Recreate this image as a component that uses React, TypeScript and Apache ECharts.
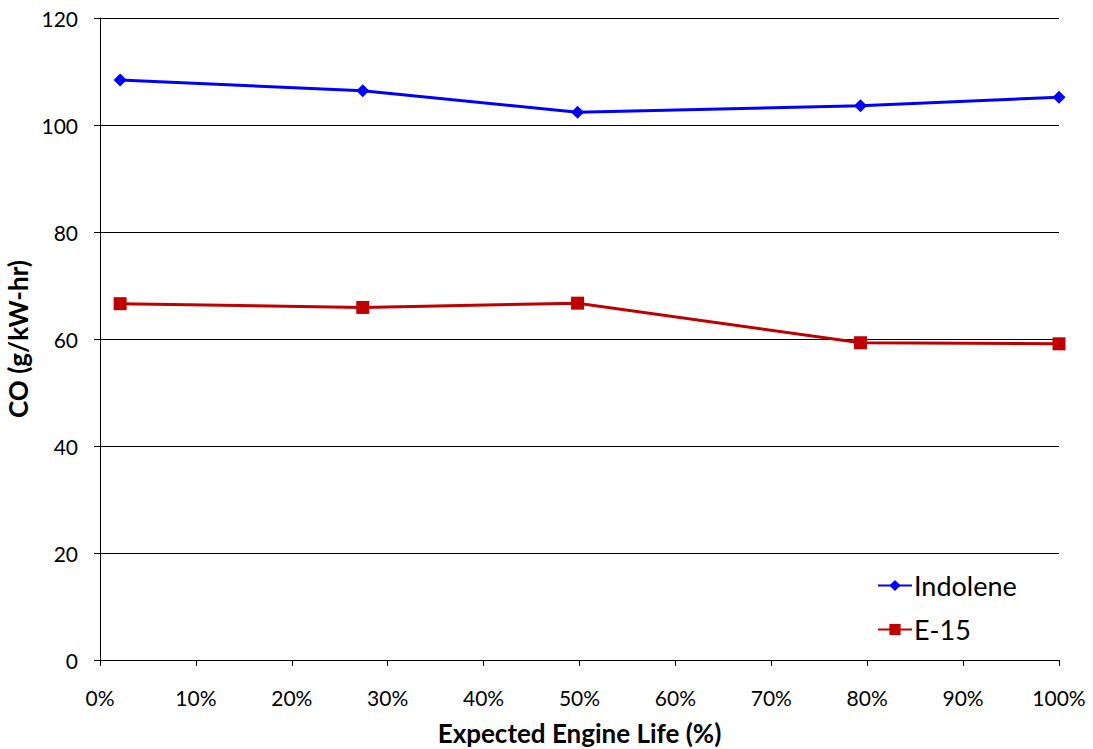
import React, { useEffect, useRef } from "react";
import * as echarts from "echarts";

const lifePct = [2.1, 27.4, 49.8, 79.3, 100];
const indolene = [108.4, 106.4, 102.4, 103.6, 105.2];
const e15 = [66.6, 65.9, 66.7, 59.3, 59.1];
const seriesNames = ["Indolene", "E-15"];
const xTitle = "Expected Engine Life (%)";
const yTitle = "CO (g/kW-hr)";

const FONT = "Lato, 'Open Sans', sans-serif";

export default function App() {
  const ref = useRef<HTMLDivElement>(null);
  useEffect(() => {
    if (!ref.current) return;
    const chart = echarts.init(ref.current, undefined, { renderer: "svg" });
    chart.setOption({
      animation: false,
      backgroundColor: "#ffffff",
      grid: {
        left: 100,
        top: 18,
        width: 959,
        height: 642,
        containLabel: false,
        outerBoundsMode: "none",
      },
      legend: {
        orient: "vertical",
        left: 877,
        top: 572,
        padding: 0,
        itemGap: 17,
        itemWidth: 34,
        itemHeight: 14,
        textStyle: { fontFamily: FONT, fontSize: 27, color: "#000", padding: [0, 0, 0, -3] },
        data: seriesNames,
      },
      xAxis: {
        type: "value",
        min: 0,
        max: 100,
        interval: 10,
        name: xTitle,
        nameLocation: "middle",
        nameGap: 60,
        nameTextStyle: { fontFamily: FONT, fontSize: 26, fontWeight: "bold", color: "#000" },
        axisLine: { show: true, lineStyle: { color: "#000", width: 1 } },
        axisTick: { show: true, length: 6, inside: false, lineStyle: { color: "#000" } },
        axisLabel: {
          formatter: (v: number) => v + "%",
          fontFamily: FONT,
          fontSize: 21,
          color: "#000",
          margin: 27,
        },
        splitLine: { show: false },
      },
      yAxis: {
        type: "value",
        min: 0,
        max: 120,
        interval: 20,
        name: yTitle,
        nameLocation: "middle",
        nameGap: 66,
        nameRotate: 90,
        nameTextStyle: { fontFamily: FONT, fontSize: 26, fontWeight: "bold", color: "#000" },
        axisLine: { show: true, lineStyle: { color: "#000", width: 1 } },
        axisTick: { show: true, length: 6, inside: false, lineStyle: { color: "#000" } },
        axisLabel: { fontFamily: FONT, fontSize: 21, color: "#000", margin: 22 },
        splitLine: { show: true, lineStyle: { color: "#000", width: 1 } },
      },
      series: [
        {
          name: seriesNames[0],
          type: "line",
          data: lifePct.map((x, i) => [x, indolene[i]]),
          symbol: "diamond",
          symbolSize: 13,
          lineStyle: { color: "#0000FF", width: 3 },
          itemStyle: { color: "#0000FF" },
        },
        {
          name: seriesNames[1],
          type: "line",
          data: lifePct.map((x, i) => [x, e15[i]]),
          symbol: "rect",
          symbolSize: 13,
          lineStyle: { color: "#C00000", width: 3 },
          itemStyle: { color: "#C00000" },
        },
      ],
    });
    return () => chart.dispose();
  }, []);
  return (
    <div
      ref={ref}
      style={{ position: "fixed", left: 0, top: 0, width: 1093, height: 749, background: "#fff" }}
    />
  );
}
